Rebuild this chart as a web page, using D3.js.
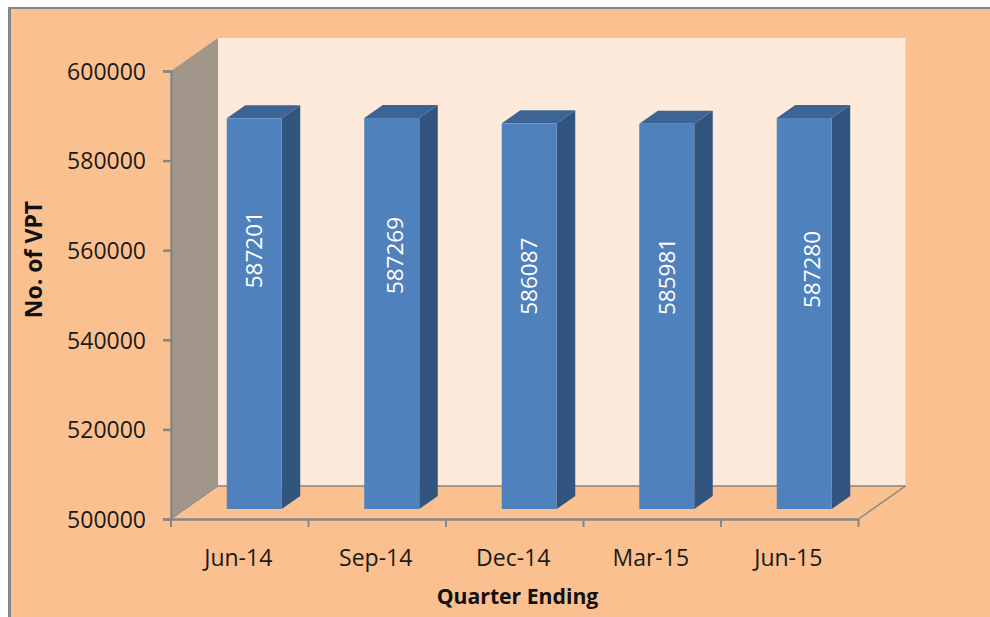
<!DOCTYPE html>
<html>
<head>
<meta charset="utf-8">
<script src="https://cdn.jsdelivr.net/npm/d3@7"></script>
<style>
  html, body { margin: 0; padding: 0; background: #fff; }
  svg { display: block; }
  text { font-family: "Open Sans", sans-serif; }
</style>
</head>
<body>
<script>
// values
var quarters = ["Jun-14", "Sep-14", "Dec-14", "Mar-15", "Jun-15"];
var vptCounts = [587201, 587269, 586087, 585981, 587280];
var yTicks = [500000, 520000, 540000, 560000, 580000, 600000];

var width = 990, height = 617;

// labels sit by hand in the original, not centred on the bars
var labelShift = [[0, -64], [3, -58], [0, -40], [0, -40], [8, -44]];

var colors = { bg: "#fbc08f", line: "#868686", wall: "#feeada", side: "#a29589",
               bar: "#4f81bd", barSide: "#31557f", barTop: "#3c6494" };

var left = 171, right = 858.5, bottom = 519, top_ = 71;
var depthX = 47, depthY = -33;      // floor depth
var barDepthX = 18.5, barDepthY = -13;
var barLiftX = 14.5, barLiftY = -10;  // bars stand part way back on the floor

var x = d3.scaleBand().domain(quarters).range([left, right]).paddingInner(0.6).paddingOuter(0.3);
var y = d3.scaleLinear().domain([500000, 600000]).range([bottom, top_]);

var svg = d3.select("body").append("svg").attr("width", width).attr("height", height);

function poly(pts, fill) {
  return svg.append("polygon")
    .attr("points", pts.map(function (p) { return p.join(","); }).join(" "))
    .attr("fill", fill);
}

// frame, only top and left show
svg.append("rect").attr("x", 8).attr("y", 7).attr("width", width - 8).attr("height", height - 7).attr("fill", colors.line);
svg.append("rect").attr("x", 11).attr("y", 9).attr("width", width - 11).attr("height", height - 9).attr("fill", colors.bg);

// back wall, side wall
svg.append("rect")
  .attr("x", left + depthX).attr("y", top_ + depthY)
  .attr("width", right - left).attr("height", bottom - top_)
  .attr("fill", colors.wall);
poly([[left, top_], [left + depthX, top_ + depthY], [left + depthX, bottom + depthY], [left, bottom]], colors.side);

// floor edges
svg.append("line")
  .attr("x1", left + depthX).attr("x2", right + depthX)
  .attr("y1", bottom + depthY).attr("y2", bottom + depthY)
  .attr("stroke", colors.line).attr("stroke-width", 1.5);
svg.append("line")
  .attr("x1", right).attr("x2", right + depthX)
  .attr("y1", bottom).attr("y2", bottom + depthY)
  .attr("stroke", colors.line).attr("stroke-width", 1.5);
svg.append("line")
  .attr("x1", left).attr("x2", left + depthX)
  .attr("y1", bottom).attr("y2", bottom + depthY)
  .attr("stroke", colors.line).attr("stroke-width", 1);

// bars
var bw = x.bandwidth();
vptCounts.forEach(function (v, i) {
  var x0 = x(quarters[i]) + barLiftX, x1 = x0 + bw;
  var yTop = y(v) + barLiftY, yBase = y(500000) + barLiftY;
  poly([[x1, yTop], [x1 + barDepthX, yTop + barDepthY], [x1 + barDepthX, yBase + barDepthY], [x1, yBase]], colors.barSide);
  poly([[x0, yTop], [x0 + barDepthX, yTop + barDepthY], [x1 + barDepthX, yTop + barDepthY], [x1, yTop]], colors.barTop);
  svg.append("rect").attr("x", x0).attr("y", yTop).attr("width", bw).attr("height", yBase - yTop).attr("fill", colors.bar);

  var lx = x0 + bw / 2 + labelShift[i][0] + 8, ly = (yTop + yBase) / 2 + labelShift[i][1];
  svg.append("text")
    .attr("transform", "translate(" + lx + "," + ly + ") rotate(-90)")
    .attr("text-anchor", "middle")
    .attr("fill", "#fff")
    .attr("font-size", 22.5)
    .text(v);
});

// axes
var yAxis = svg.append("g").attr("transform", "translate(" + left + ",0)")
  .call(d3.axisLeft(y).tickValues(yTicks).tickSize(8).tickPadding(17).tickFormat(d3.format("d")));
var xAxis = svg.append("g").attr("transform", "translate(0," + bottom + ")")
  .call(d3.axisBottom(x).tickSize(0).tickPadding(31));

[yAxis, xAxis].forEach(function (g) {
  g.selectAll(".domain").attr("stroke", colors.line).attr("stroke-width", 2.5);
  g.selectAll(".tick line").attr("stroke", colors.line).attr("stroke-width", 2.5);
  g.selectAll("text").attr("fill", "#1a1a1a").attr("font-family", '"Open Sans", sans-serif').attr("font-size", 23);
});
yAxis.selectAll("text").attr("dy", "0.36em");
xAxis.selectAll("text").attr("dx", -1.5);

// x ticks fall between the categories
d3.range(quarters.length + 1).forEach(function (i) {
  var tx = left + i * x.step();
  svg.append("line")
    .attr("x1", tx).attr("x2", tx).attr("y1", bottom).attr("y2", bottom + 8)
    .attr("stroke", colors.line).attr("stroke-width", 2);
});

// axis titles
svg.append("text")
  .attr("x", 517.5).attr("y", 604)
  .attr("text-anchor", "middle")
  .attr("font-size", 21.2).attr("font-weight", "bold").attr("fill", "#111")
  .text("Quarter Ending");
svg.append("text")
  .attr("transform", "translate(42,259.5) rotate(-90)")
  .attr("text-anchor", "middle")
  .attr("font-size", 23).attr("font-weight", "bold").attr("fill", "#111")
  .text("No. of VPT");
</script>
</body>
</html>
